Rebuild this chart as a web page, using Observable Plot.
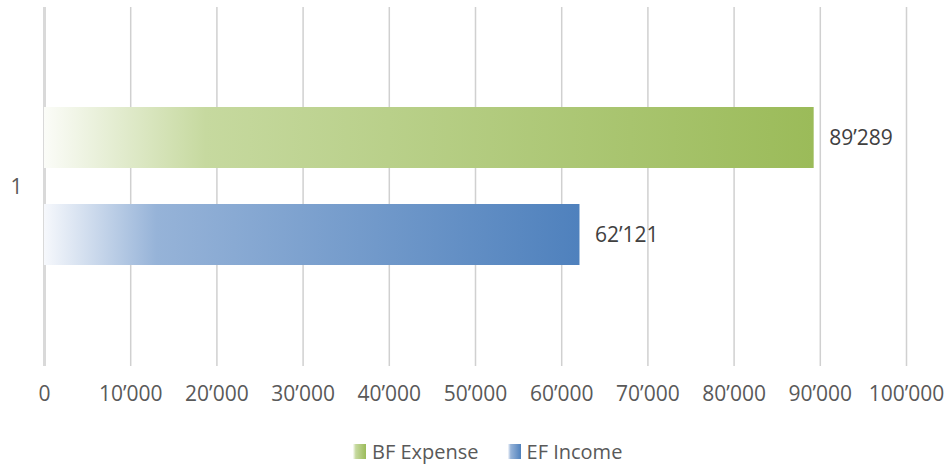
<!DOCTYPE html>
<html>
<head>
<meta charset="utf-8">
<script src="https://cdn.jsdelivr.net/npm/d3@7"></script>
<script src="https://cdn.jsdelivr.net/npm/@observablehq/plot@0.6"></script>
<style>
  body { margin: 0; background: #fff; font-family: "Open Sans", sans-serif; }
  #legend { display: flex; align-items: center; padding-left: 353px; height: 47px; box-sizing: border-box; padding-top: 15px; color: #595959; font-size: 20px; }
  .item { display: flex; align-items: center; margin-right: 29px; }
  .sw { width: 13px; height: 15px; margin-right: 6px; }
</style>
</head>
<body>
<div id="chart"></div>
<div id="legend"></div>
<script>
const categories = ["1"];
const seriesNames = ["BF Expense", "EF Income"];
const seriesValues = [89289, 62121];
const seriesColors = ["#9bbb59", "#4f81bd"];
const seriesMid = ["#c6d99f", "#96b3d8"];
const seriesLight = ["#fbfcf8", "#f6f8fc"];
const xTicks = [0, 10000, 20000, 30000, 40000, 50000, 60000, 70000, 80000, 90000, 100000];

const data = seriesNames.map((s, i) => ({cat: categories[0], series: s, value: seriesValues[i]}));
const gradIds = ["gradGreen", "gradBlue"];

const fmt = d3.formatLocale({decimal: ".", thousands: "\u2019", grouping: [3], currency: ["", ""]}).format(",d");

const defsMark = () => {
  const defs = d3.create("svg:defs");
  seriesNames.forEach((s, i) => {
    const g = defs.append("linearGradient").attr("id", gradIds[i]).attr("x1", "0").attr("x2", "1").attr("y1", "0").attr("y2", "0");
    g.append("stop").attr("offset", "0%").attr("stop-color", seriesLight[i]);
    g.append("stop").attr("offset", "21%").attr("stop-color", seriesMid[i]);
    g.append("stop").attr("offset", "100%").attr("stop-color", seriesColors[i]);
  });
  return defs.node();
};

const chart = Plot.plot({
  width: 950,
  height: 420,
  marginLeft: 44,
  marginRight: 44,
  marginTop: 7,
  marginBottom: 54,
  style: {fontFamily: "Open Sans, sans-serif", fontSize: "21px", color: "#595959", background: "#fff"},
  x: {domain: [0, 100000], ticks: xTicks, tickFormat: fmt, tickSize: 0, tickPadding: 20, label: null},
  y: {domain: seriesNames, axis: null, paddingInner: 0.37, paddingOuter: 1.03},
  marks: [
    defsMark,
    Plot.ruleX(xTicks.slice(1), {stroke: "#d0d0d0", strokeWidth: 1.5}),
    Plot.ruleX([0], {stroke: "#d9d9d9", strokeWidth: 3}),
    ...seriesNames.map((s, i) => Plot.barX(data.filter(d => d.series === s), {x: "value", y: "series", fill: `url(#${gradIds[i]})`})),
    Plot.text(data, {x: "value", y: "series", text: d => fmt(d.value), textAnchor: "start", dx: 15, fill: "#404040", fontSize: 21}),
    Plot.text(categories, {text: d => d, frameAnchor: "left", textAnchor: "end", dx: -22, fill: "#595959", fontSize: 21})
  ]
});
document.getElementById("chart").appendChild(chart);

const legend = document.getElementById("legend");
seriesNames.forEach((s, i) => {
  const item = document.createElement("div");
  item.className = "item";
  const sw = document.createElement("div");
  sw.className = "sw";
  sw.style.background = `linear-gradient(to right, ${seriesLight[i]}, ${seriesMid[i]} 21%, ${seriesColors[i]})`;
  const t = document.createElement("span");
  t.textContent = s;
  item.appendChild(sw);
  item.appendChild(t);
  legend.appendChild(item);
});
</script>
</body>
</html>
